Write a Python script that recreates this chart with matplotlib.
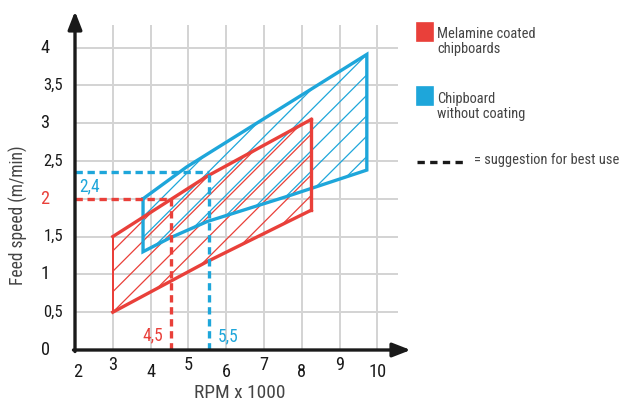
import matplotlib
matplotlib.use("Agg")
import numpy as np
import matplotlib.pyplot as plt
from matplotlib import font_manager
from matplotlib.lines import Line2D
from matplotlib.patches import Rectangle, Polygon
from matplotlib.collections import LineCollection

# ---------------- data ----------------
x_ticks = [2, 3, 4, 5, 6, 7, 8, 9, 10]
x_tick_labels = ["2", "3", "4", "5", "6", "7", "8", "9", "10"]
y_ticks = [0, 0.5, 1, 1.5, 2, 2.5, 3, 3.5, 4]
y_tick_labels = ["0", "0,5", "1", "1,5", "2", "2,5", "3", "3,5", "4"]

red_upper_x = [3, 5.5, 8.25]
red_upper_y = [1.5, 2.3, 3.05]
red_lower_x = [3, 5.5, 8.25]
red_lower_y = [0.5, 1.17, 1.85]

blue_upper_x = [3.8, 4.95, 9.72]
blue_upper_y = [2.0, 2.42, 3.91]
blue_lower_x = [3.8, 4.5, 5.5, 7.6, 9.72]
blue_lower_y = [1.3, 1.48, 1.7, 2.03, 2.38]

red_best_rpm = 4.55
red_best_speed = 2.0
blue_best_rpm = 5.55
blue_best_speed = 2.36
red_rpm_label = "4,5"
blue_rpm_label = "5,5"
blue_speed_label = "2,4"

legend_labels = ["Melamine coated\nchipboards", "Chipboard\nwithout coating"]
legend_dash_label = "= suggestion for best use"

# ---------------- style ----------------
RED = "#e9403a"
BLUE = "#1ea6da"
GRID = "#d4d4d4"
HATCH_STEP = 0.54      # hatch spacing along x (style)
HATCH_SLOPE = 0.5      # 45 degrees on screen with these axis scales

avail = {f.name for f in font_manager.fontManager.ttflist}
fam = [f for f in ["Roboto Condensed", "Liberation Sans Narrow", "Roboto", "DejaVu Sans"] if f in avail]
plt.rcParams["font.family"] = fam

DPI = 120
fig = plt.figure(figsize=(623 / DPI, 402 / DPI), dpi=DPI)
ax = fig.add_axes([75 / 623, 52 / 402, 8.95 * 37.8 / 623, 4.55 * 75.6 / 402])
ax.set_xlim(2, 10.95)
ax.set_ylim(0, 4.55)
ax.axis("off")

# grid
ax.hlines(y_ticks[1:], 2, 10.54, color=GRID, lw=1.2, zorder=0)
ax.vlines(x_ticks[1:], 0, 4.3, color=GRID, lw=1.2, zorder=0)


def hatched(xs, ys, color, anchor, z):
    poly = Polygon(np.column_stack([xs, ys]), closed=True, facecolor="none", edgecolor="none")
    ax.add_patch(poly)
    ax0, ay0 = anchor
    c0 = ax0 - ay0 / HATCH_SLOPE
    cs = c0 + HATCH_STEP * np.arange(-40, 41)
    segs = [[(c, 0.0), (c + 12, 12 * HATCH_SLOPE)] for c in cs]
    lc = LineCollection(segs, colors=color, linewidths=0.75, zorder=z)
    ax.add_collection(lc)
    lc.set_clip_path(poly)


rx = red_upper_x + red_lower_x[::-1]
ry = red_upper_y + red_lower_y[::-1]
bx = blue_upper_x + blue_lower_x[::-1]
by = blue_upper_y + blue_lower_y[::-1]

hatched(rx, ry, RED, (red_lower_x[0], red_lower_y[0]), 2)
hatched(bx, by, BLUE, (blue_upper_x[-1], blue_upper_y[-1]), 2.1)

# outlines
ax.plot(bx + [bx[0]], by + [by[0]], color=BLUE, lw=2.0, zorder=3, solid_joinstyle="miter")
ax.plot(red_upper_x, red_upper_y, color=RED, lw=2.0, zorder=4)
ax.plot(red_lower_x, red_lower_y, color=RED, lw=2.0, zorder=4)
ax.plot([red_upper_x[-1], red_lower_x[-1]], [red_upper_y[-1], red_lower_y[-1]], color=RED, lw=2.0, zorder=4)
ax.plot([red_upper_x[0], red_lower_x[0]], [red_upper_y[0], red_lower_y[0]], color=RED, lw=1.2, zorder=4)

# dashed guides
dash = (0, (2.2, 1.4))
ax.plot([2, red_best_rpm], [red_best_speed, red_best_speed], color=RED, lw=2.0, ls=dash, zorder=5)
ax.plot([red_best_rpm, red_best_rpm], [0, red_best_speed], color=RED, lw=2.0, ls=dash, zorder=5)
ax.plot([2, blue_best_rpm], [blue_best_speed, blue_best_speed], color=BLUE, lw=2.0, ls=dash, zorder=5)
ax.plot([blue_best_rpm, blue_best_rpm], [0, blue_best_speed], color=BLUE, lw=2.0, ls=dash, zorder=5)

ax.text(2.1, blue_best_speed - 0.2, blue_speed_label, color=BLUE, fontsize=10.5, ha="left", va="center")
ax.text(red_best_rpm - 0.5, 0.2, red_rpm_label, color=RED, fontsize=10.5, ha="center", va="center")
ax.text(blue_best_rpm + 0.5, 0.18, blue_rpm_label, color=BLUE, fontsize=10.5, ha="center", va="center")

# axes with arrows
ax.annotate("", xy=(10.88, 0), xytext=(1.96, 0),
            arrowprops=dict(arrowstyle="-|>,head_length=0.9,head_width=0.35", color="#1a1a1a", lw=2.0,
                            shrinkA=0, shrinkB=0), annotation_clip=False, zorder=6)
ax.annotate("", xy=(2, 4.48), xytext=(2, -0.02),
            arrowprops=dict(arrowstyle="-|>,head_length=0.9,head_width=0.35", color="#1a1a1a", lw=2.0,
                            shrinkA=0, shrinkB=0), annotation_clip=False, zorder=6)

# tick labels
for i, (xv, lab) in enumerate(zip(x_ticks, x_tick_labels)):
    yoff = -0.29 if i % 2 == 0 else -0.2
    ax.text(xv + (0.07 if i == 0 else 0), yoff, lab, color="#1a1a1a", fontsize=11,
            ha="center", va="center", clip_on=False)
for yv, lab in zip(y_ticks, y_tick_labels):
    xpos = 1.21 if "," not in lab else 1.42
    col = RED if lab == "2" else "#1a1a1a"
    ax.text(xpos, yv, lab, color=col, fontsize=11 if "," not in lab else 10,
            ha="center", va="center", clip_on=False)

fig.text(240 / 623, 1 - 393 / 402, "RPM x 1000", color="#444444", fontsize=11.6, ha="center", va="center")
fig.text(18 / 623, 1 - 215 / 402, "Feed speed (m/min)", color="#444444", fontsize=10.5,
         ha="center", va="center", rotation=90)

# legend
fig.add_artist(Rectangle((417 / 623, 1 - 41 / 402), 16 / 623, 18 / 402, color=RED, transform=fig.transFigure))
fig.add_artist(Rectangle((417 / 623, 1 - 105 / 402), 16 / 623, 18 / 402, color=BLUE, transform=fig.transFigure))
fig.text(437 / 623, 1 - 27 / 402, legend_labels[0], color="#444444", fontsize=8.7, ha="left", va="top",
         linespacing=1.05)
fig.text(437 / 623, 1 - 92 / 402, legend_labels[1], color="#444444", fontsize=8.7, ha="left", va="top",
         linespacing=1.05)
fig.add_artist(Line2D([417 / 623, 463 / 623], [1 - 162 / 402] * 2, color="#1a1a1a", lw=2.0,
                      ls=(0, (2.2, 1.6)), transform=fig.transFigure))
fig.text(474 / 623, 1 - 160 / 402, legend_dash_label, color="#444444", fontsize=8.7, ha="left", va="center")

fig.savefig("out.png", dpi=DPI)
